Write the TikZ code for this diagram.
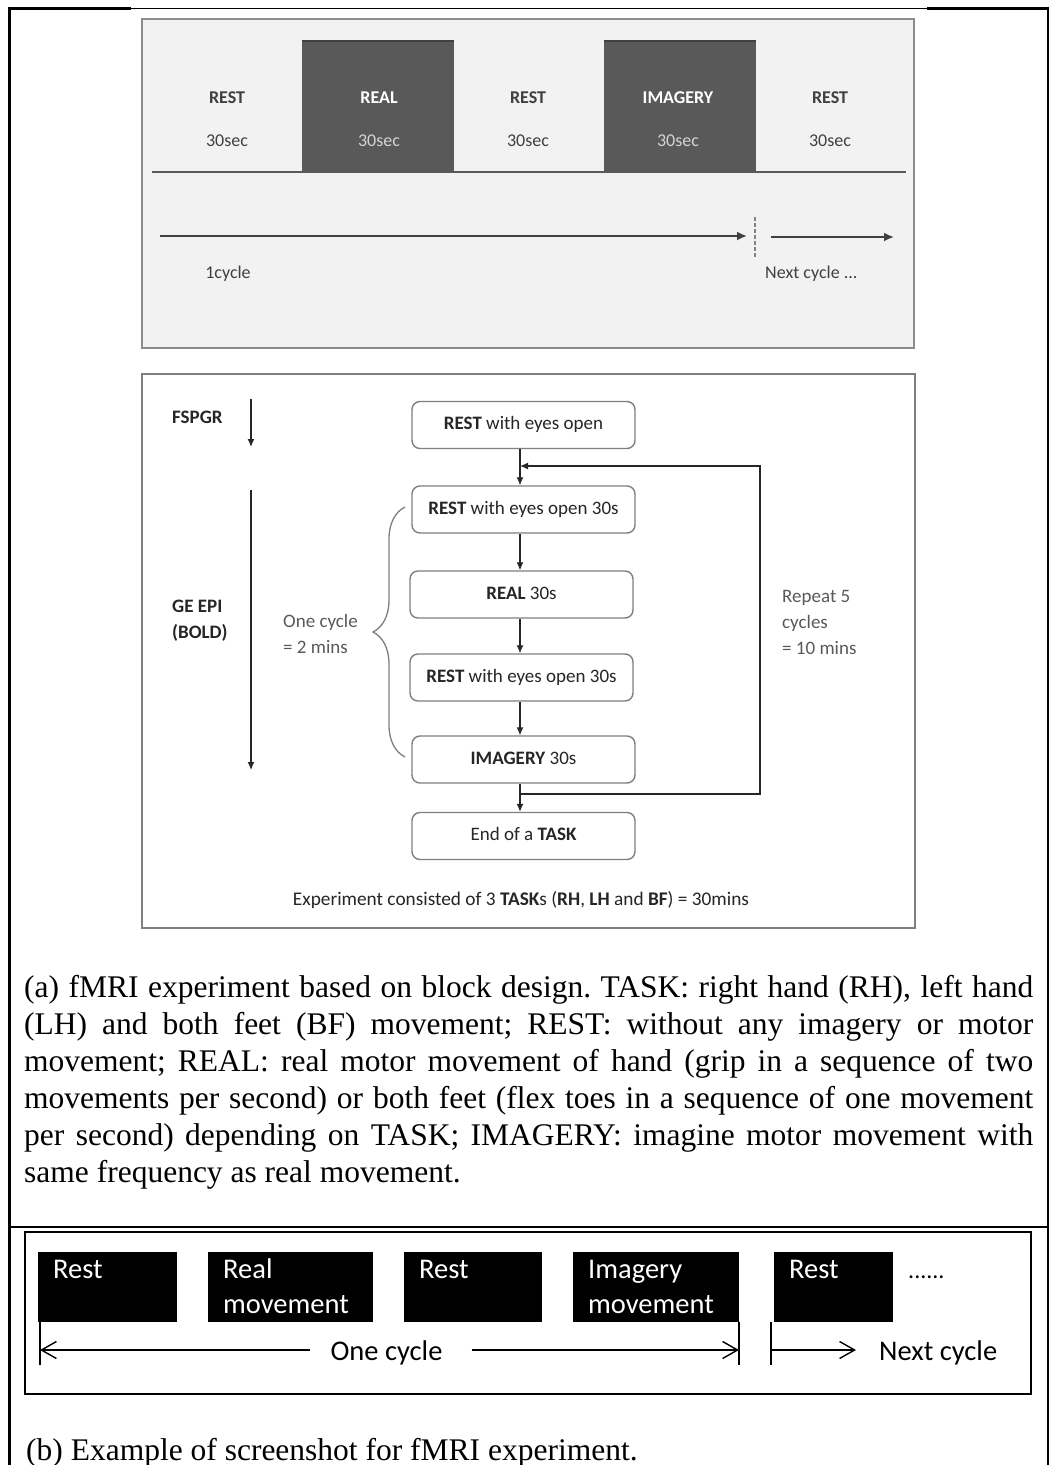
\documentclass[tikz,border=0pt]{standalone}
\usepackage{fontspec}
\setmainfont{Liberation Serif}
\newfontfamily\calib{Carlito}
\usetikzlibrary{arrows.meta,decorations.pathreplacing,calc}

\definecolor{panelfill}{HTML}{F2F2F2}
\definecolor{panelrule}{HTML}{8C8C8C}
\definecolor{blockfill}{HTML}{595959}
\definecolor{blockedge}{HTML}{404040}
\definecolor{labeldark}{HTML}{404040}
\definecolor{labellight}{HTML}{D4D4D4}
\definecolor{flowrule}{HTML}{7F7F7F}
\definecolor{flowtext}{HTML}{262626}
\definecolor{notetext}{HTML}{595959}

\begin{document}
\begin{tikzpicture}[x=1pt,y=-1pt,
  toplabel/.style={anchor=base, inner sep=0, font=\calib\fontsize{18}{22}\selectfont, text=labeldark},
  timeline/.style={draw=blockedge, line width=1.8pt, -{Latex[length=10pt,width=9pt]}},
  flowbox/.style={draw=flowrule, line width=1.4pt, rounded corners=8pt, fill=white,
    minimum width=223pt, minimum height=47pt, inner sep=0, text height=13pt, text depth=4pt,
    font=\calib\fontsize{19}{22}\selectfont, text=flowtext},
  flowarrow/.style={draw=flowtext, line width=1.2pt, -{Latex[length=8pt,width=7pt]}},
  sidelabel/.style={anchor=north west, inner sep=0, align=left, font=\calib\fontsize{19}{26}\selectfont},
  blk/.style={fill=black, inner sep=0, anchor=north west, minimum height=70pt},
  blktext/.style={anchor=north west, inner sep=0, align=left, text=white, font=\calib\fontsize{28.5}{35}\selectfont},
  tick/.style={line width=1.4pt},
  openarrow/.style={line width=1.4pt, -{Straight Barb[length=15pt,width=17pt,line width=1.4pt]}},
  caption/.style={inner sep=0, font=\fontsize{31.5}{37}\selectfont},
]
\useasboundingbox (0,0) rectangle (1049,1465);

% ---------- table frame ----------
\draw[line width=1pt] (131,8) -- (927,8);
\draw[line width=3pt] (131,8) -- (9.5,8) -- (9.5,1465);
\draw[line width=3pt] (927,8) -- (1048.5,8);
\draw[line width=2pt] (1047.7,7) -- (1047.7,1465);
\draw[line width=2.5pt] (9,1227) -- (1049,1227);

% ---------- block timeline panel ----------
\draw[panelrule, line width=2pt, fill=panelfill] (142,19) rectangle (914,348);
\fill[blockfill] (302,41) rectangle (454,172);
\fill[blockfill] (604,41) rectangle (756,172);
\draw[blockedge, line width=2pt] (302,41) -- (454,41);
\draw[blockedge, line width=2pt] (604,41) -- (756,41);
\draw[blockfill, line width=2pt] (152,172) -- (906,172);

\node[toplabel, font=\calib\bfseries\fontsize{18}{22}\selectfont] (restA) at (227,103) {REST};
\node[toplabel] (restAt) at (227,146.5) {30sec};
\node[toplabel, text=white, font=\calib\bfseries\fontsize{18}{22}\selectfont] (realA) at (379,103) {REAL};
\node[toplabel, text=labellight] (realAt) at (379,146.5) {30sec};
\node[toplabel, font=\calib\bfseries\fontsize{18}{22}\selectfont] (restB) at (528,103) {REST};
\node[toplabel] (restBt) at (528,146.5) {30sec};
\node[toplabel, text=white, font=\calib\bfseries\fontsize{18}{22}\selectfont] (imagA) at (678,103) {IMAGERY};
\node[toplabel, text=labellight] (imagAt) at (678,146.5) {30sec};
\node[toplabel, font=\calib\bfseries\fontsize{18}{22}\selectfont] (restC) at (830,103) {REST};
\node[toplabel] (restCt) at (830,146.5) {30sec};

\coordinate (cycA) at (160,236);
\coordinate (cycB) at (747,236);
\coordinate (nxtA) at (771,237);
\coordinate (nxtB) at (894,237);
\draw[timeline] (cycA) -- (cycB);
\draw[timeline] (nxtA) -- (nxtB);
\draw[gray, line width=1.3pt, dash pattern=on 4pt off 2pt] (755,217) -- (755,258);
\node[toplabel] (oneCycleTop) at (228,278) {1cycle};
\node[toplabel, anchor=base west] (nextCycleTop) at (765,278) {Next cycle ...};

% ---------- protocol flowchart panel ----------
\draw[flowrule, line width=2pt, fill=white] (142,374) rectangle (915,928);

\node[flowbox] (b1) at (523.5,425) {\textbf{REST} with eyes open};
\node[flowbox] (b2) at (523.5,509.5) {\textbf{REST} with eyes open 30s};
\node[flowbox] (b3) at (521.5,594.5) {\textbf{REAL} 30s};
\node[flowbox] (b4) at (521.5,677.5) {\textbf{REST} with eyes open 30s};
\node[flowbox] (b5) at (523.5,759.5) {\textbf{IMAGERY} 30s};
\node[flowbox] (b6) at (523.5,836) {End of a \textbf{TASK}};

\coordinate (jx) at (520,0);
\coordinate (loopTop) at (520,466);
\coordinate (loopBot) at (520,794);
\coordinate (loopRB) at (760,794);
\coordinate (loopRT) at (760,466);
\draw[flowarrow] (b1.south -| jx) -- (b2.north -| jx);
\draw[flowarrow] (b2.south -| jx) -- (b3.north -| jx);
\draw[flowarrow] (b3.south -| jx) -- (b4.north -| jx);
\draw[flowarrow] (b4.south -| jx) -- (b5.north -| jx);
\draw[flowarrow] (b5.south -| jx) -- (b6.north -| jx);
\draw[flowarrow] (loopBot) -- (loopRB) -- (loopRT) -- (loopTop);

\node[anchor=base west, inner sep=0, font=\calib\bfseries\fontsize{19}{22}\selectfont, text=flowtext] (fspgr) at (172,423) {FSPGR};
\coordinate (fsA) at (251,399);
\coordinate (fsB) at (251,447);
\draw[flowarrow] (fsA) -- (fsB);
\coordinate (geA) at (251,490);
\coordinate (geB) at (251,770);
\draw[flowarrow] (geA) -- (geB);
\node[sidelabel, text=flowtext, font=\calib\bfseries\fontsize{19}{26}\selectfont] (geepi) at (172,594) {\strut GE EPI\\(BOLD)};
\node[sidelabel, text=notetext] (oneCycleNote) at (283,608.8) {\strut One cycle\\= 2 mins};
\node[sidelabel, text=notetext] (repeatNote) at (782,583.8) {\strut Repeat 5\\cycles\\= 10 mins};

\draw[flowrule, line width=1.3pt, decorate, decoration={brace, amplitude=32pt}] (405,757) -- (405,507);

\node[anchor=base, inner sep=0, font=\calib\fontsize{19.3}{22}\selectfont, text=flowtext] (summary) at (521,905)
  {Experiment consisted of 3 \textbf{TASK}s (\textbf{RH}, \textbf{LH} and \textbf{BF}) = 30mins};

% ---------- caption (a) ----------
\node[caption, anchor=north west] (capA) at (24,971) {\frenchspacing\vbox{\hsize=1009pt
\hbox to \hsize{\strut(a) fMRI experiment based on block design. TASK: right hand (RH), left hand}
\hbox to \hsize{(LH) and both feet (BF) movement; REST: without any imagery or motor}
\hbox to \hsize{movement; REAL: real motor movement of hand (grip in a sequence of two}
\hbox to \hsize{movements per second) or both feet (flex toes in a sequence of one movement}
\hbox to \hsize{per second) depending on TASK; IMAGERY: imagine motor movement with}
\hbox{same frequency as real movement.}}};

% ---------- screenshot panel ----------
\draw[line width=2.5pt] (25,1232) rectangle (1031,1394);
\node[blk, minimum width=139pt] (sRest1) at (38,1252) {};
\node[blk, minimum width=165pt] (sReal) at (208,1252) {};
\node[blk, minimum width=138pt] (sRest2) at (404,1252) {};
\node[blk, minimum width=166pt] (sImag) at (573,1252) {};
\node[blk, minimum width=119pt] (sRest3) at (774,1252) {};
\node[blktext] (tRest1) at ($(sRest1.north west)+(15,1.5)$) {\strut Rest};
\node[blktext] (tReal) at ($(sReal.north west)+(15,1.5)$) {\strut Real\\movement};
\node[blktext] (tRest2) at ($(sRest2.north west)+(15,1.5)$) {\strut Rest};
\node[blktext] (tImag) at ($(sImag.north west)+(15,1.5)$) {\strut Imagery\\movement};
\node[blktext] (tRest3) at ($(sRest3.north west)+(15,1.5)$) {\strut Rest};
\node[anchor=base west, inner sep=0, font=\calib\fontsize{24}{28}\selectfont] (dots) at (908,1278) {......};

\coordinate (lvl) at (0,1350);
\coordinate (tickA) at (40,1322);
\coordinate (tickB) at (739,1322);
\coordinate (tickC) at (771,1322);
\draw[tick] (tickA) -- (40,1365);
\draw[tick] (tickB) -- (739,1365);
\draw[tick] (tickC) -- (771,1365);
\node[anchor=base, inner sep=0, font=\calib\fontsize{28.5}{32}\selectfont] (oneCycle) at (386.5,1360) {One cycle};
\node[anchor=base west, inner sep=0, font=\calib\fontsize{28.5}{32}\selectfont] (nextCycle) at (879,1360) {Next cycle};
\draw[openarrow] ([xshift=-20pt]oneCycle.west |- lvl) -- (tickA |- lvl);
\draw[openarrow] ([xshift=29pt]oneCycle.east |- lvl) -- (tickB |- lvl);
\draw[openarrow] (tickC |- lvl) -- ([xshift=-23pt]nextCycle.west |- lvl);

% ---------- caption (b) ----------
\node[caption, anchor=base west] (capB) at (26,1460) {(b) Example of screenshot for fMRI experiment.};
\end{tikzpicture}
\end{document}
